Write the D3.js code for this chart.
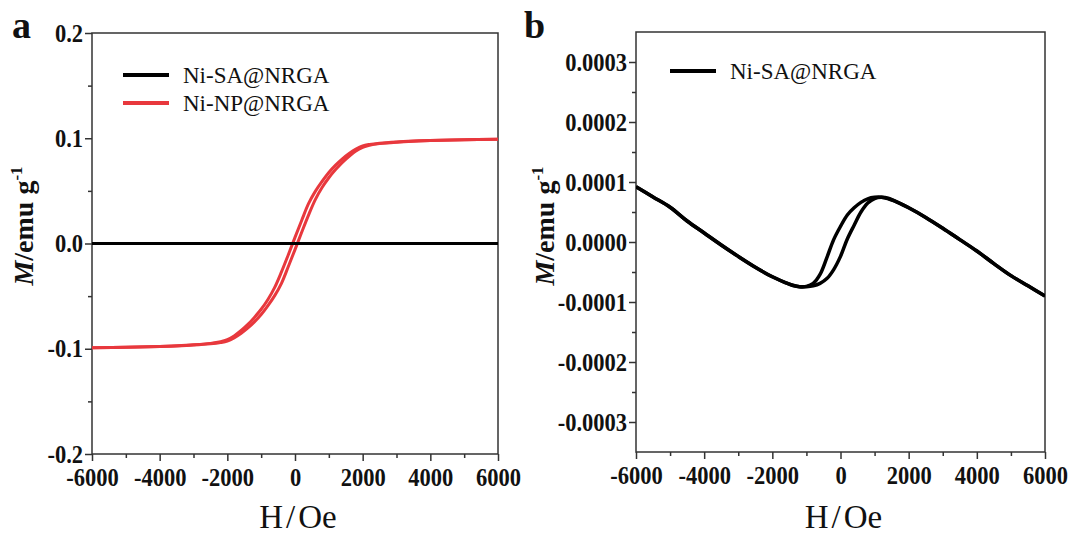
<!DOCTYPE html>
<html><head><meta charset="utf-8">
<script src="https://cdn.jsdelivr.net/npm/d3@7"></script>
<style>
html,body{margin:0;padding:0;background:#fff;}
svg{display:block;}
svg text{font-family:"Liberation Serif","Times New Roman","DejaVu Serif",serif;}
</style></head>
<body>
<svg id="c" width="1072" height="537"></svg>
<script>
// ---------- DATA ----------
const xTicks = [-6000,-4000,-2000,0,2000,4000,6000];
const xMinor = [-5000,-3000,-1000,1000,3000,5000];
const aYTicks = [-0.2,-0.1,0.0,0.1,0.2];
const aYMinor = [-0.15,-0.05,0.05,0.15];
const bYTicks = [-0.0003,-0.0002,-0.0001,0,0.0001,0.0002,0.0003];
const bYMinor = [-0.00025,-0.00015,-0.00005,0.00005,0.00015,0.00025];

// Ni-NP@NRGA loop (panel a)
const npDownH = [6000,5000,4000,3500,3000,2500,2200,2000,1800,1600,1400,1200,1000,800,600,400,200,0,-200,-400,-600,-800,-1000,-1200,-1400,-1600,-1800,-2000,-2200,-2500,-3000,-3500,-4000,-5000,-6000];
const npDownM = [0.0991,0.0986,0.0979,0.0973,0.0965,0.0953,0.0941,0.0927,0.0897,0.0856,0.0805,0.0745,0.0675,0.0590,0.0495,0.0378,0.0221,0.0058,-0.0109,-0.0270,-0.0417,-0.0532,-0.0625,-0.0702,-0.0771,-0.0829,-0.0878,-0.0913,-0.0933,-0.0949,-0.0963,-0.0972,-0.0978,-0.0986,-0.0991];
const npUpH = [-6000,-5000,-4000,-3500,-3000,-2500,-2200,-2000,-1800,-1600,-1400,-1200,-1000,-800,-600,-400,-200,0,200,400,600,800,1000,1200,1400,1600,1800,2000,2200,2500,3000,3500,4000,5000,6000];
const npUpM = [-0.0991,-0.0986,-0.0979,-0.0973,-0.0965,-0.0953,-0.0941,-0.0927,-0.0897,-0.0856,-0.0805,-0.0745,-0.0675,-0.0590,-0.0495,-0.0378,-0.0221,-0.0058,0.0109,0.0270,0.0417,0.0532,0.0625,0.0702,0.0771,0.0829,0.0878,0.0913,0.0933,0.0949,0.0963,0.0972,0.0978,0.0986,0.0991];

// Ni-SA@NRGA loop (panels a and b)
const saDownH = [6000,5500,5000,4500,4000,3500,3000,2500,2000,1600,1200,1000,800,600,400,200,0,-200,-400,-600,-800,-1000,-1200,-1400,-1600,-2000,-2500,-3000,-3500,-4000,-4500,-5000,-5500,-6000];
const saDownM = [-9.0e-5,-7.3e-5,-5.6e-5,-3.6e-5,-1.5e-5,4e-6,2.3e-5,4.1e-5,5.7e-5,6.8e-5,7.45e-5,7.45e-5,7.2e-5,6.6e-5,5.7e-5,4.5e-5,2.6e-5,4e-6,-2.6e-5,-5.4e-5,-6.9e-5,-7.4e-5,-7.45e-5,-7.25e-5,-6.8e-5,-5.8e-5,-4.2e-5,-2.4e-5,-5e-6,1.5e-5,3.5e-5,5.8e-5,7.5e-5,9.2e-5];
const saUpH = [-6000,-5500,-5000,-4500,-4000,-3500,-3000,-2500,-2000,-1600,-1200,-1000,-800,-600,-400,-200,0,200,400,600,800,1000,1200,1400,1600,2000,2500,3000,3500,4000,4500,5000,5500,6000];
const saUpM = [9.2e-5,7.5e-5,5.8e-5,3.5e-5,1.5e-5,-5e-6,-2.4e-5,-4.2e-5,-5.8e-5,-6.8e-5,-7.45e-5,-7.45e-5,-7.3e-5,-6.9e-5,-6.1e-5,-4.6e-5,-2.4e-5,5e-6,2.8e-5,5.0e-5,6.5e-5,7.25e-5,7.45e-5,7.3e-5,6.8e-5,5.7e-5,4.1e-5,2.3e-5,4e-6,-1.5e-5,-3.6e-5,-5.6e-5,-7.3e-5,-9.0e-5];

const seriesNames = ["Ni-SA@NRGA","Ni-NP@NRGA"];
const seriesColors = ["#000000","#e8383d"];

// ---------- DRAW ----------
const svg = d3.select("#c");
const fmt = f => v => f(v).replace("\u2212","-");

function zip(h,m){return h.map((x,i)=>[x,m[i]]);}

function panel(o){
  const x = d3.scaleLinear().domain([-6000,6000]).range([o.x0,o.x1]);
  const y = d3.scaleLinear().domain(o.yDom).range([o.y1,o.y0]);
  const g = svg.append("g");
  g.append("rect").attr("x",o.x0).attr("y",o.y0).attr("width",o.x1-o.x0).attr("height",o.y1-o.y0)
    .attr("fill","none").attr("stroke","#333").attr("stroke-width",1.5);
  g.append("g").attr("transform",`translate(0,${o.y1})`)
    .call(d3.axisBottom(x).tickValues(xTicks).tickSize(7).tickSizeOuter(0).tickPadding(7).tickFormat(fmt(d3.format("d"))));
  g.append("g").attr("transform",`translate(0,${o.y1})`)
    .call(d3.axisBottom(x).tickValues(xMinor).tickSize(4).tickSizeOuter(0).tickFormat(""));
  g.append("g").attr("transform",`translate(${o.x0},0)`)
    .call(d3.axisLeft(y).tickValues(o.yTicks).tickSize(7).tickSizeOuter(0).tickPadding(3).tickFormat(fmt(d3.format(o.yFmt))));
  g.append("g").attr("transform",`translate(${o.x0},0)`)
    .call(d3.axisLeft(y).tickValues(o.yMinor).tickSize(4).tickSizeOuter(0).tickFormat(""));
  g.selectAll(".domain").remove();
  g.selectAll(".tick line").attr("stroke","#333").attr("stroke-width",1.5);
  g.selectAll(".tick text").attr("font-family",null).attr("font-weight","bold").attr("font-size",25)
    .attr("fill","#111").attr("transform","scale(0.9,1)");
  const line = d3.line().x(d=>x(d[0])).y(d=>y(d[1])).curve(d3.curveCatmullRom.alpha(0.5));
  const clip = "clip"+o.id;
  svg.append("clipPath").attr("id",clip).append("rect").attr("x",o.x0).attr("y",o.y0).attr("width",o.x1-o.x0).attr("height",o.y1-o.y0);
  const cg = g.append("g").attr("clip-path",`url(#${clip})`);
  o.curves.forEach(c=>{
    cg.append("path").attr("d",line(c.data)).attr("fill","none").attr("stroke",c.color).attr("stroke-width",c.w).attr("stroke-linejoin","round");
  });
  o.legend.forEach((l,i)=>{
    const ly = o.legY + i*o.legDy;
    g.append("line").attr("x1",o.legX).attr("x2",o.legX+46).attr("y1",ly).attr("y2",ly).attr("stroke",l.color).attr("stroke-width",4);
    g.append("text").attr("x",o.legX+60).attr("y",ly+8).text(l.name).attr("font-size",23).attr("fill","#111");
  });
  const xl = g.append("text").attr("x",(o.x0+o.x1)/2+3).attr("y",528).attr("text-anchor","middle")
    .attr("font-size",33).attr("fill","#111");
  xl.append("tspan").text("H");
  xl.append("tspan").attr("dx",3).text("/");
  xl.append("tspan").attr("dx",3).text("Oe");
  const yl = g.append("text").attr("transform",`translate(${o.ylx},${o.yly}) rotate(-90)`).attr("text-anchor","middle")
    .attr("font-size",28).attr("font-weight","bold").attr("fill","#111");
  yl.append("tspan").attr("font-style","italic").text("M");
  yl.append("tspan").text("/emu g");
  yl.append("tspan").attr("font-size",17).attr("dy",-11).text("-1");
  g.append("text").attr("x",o.lx).attr("y",38).attr("font-weight","bold").attr("font-size",38).attr("fill","#111").text(o.letter);
}

panel({id:"a",x0:92,x1:498,y0:33,y1:454,yDom:[-0.2,0.2],yTicks:aYTicks,yMinor:aYMinor,yFmt:".1f",
  curves:[
    {data:zip(npDownH,npDownM),color:seriesColors[1],w:3},
    {data:zip(npUpH,npUpM),color:seriesColors[1],w:3},
    {data:zip(saDownH,saDownM),color:seriesColors[0],w:3},
    {data:zip(saUpH,saUpM),color:seriesColors[0],w:3}],
  legend:[{name:seriesNames[0],color:seriesColors[0]},{name:seriesNames[1],color:seriesColors[1]}],
  legX:123,legY:75,legDy:28,ylx:33,yly:226,lx:12,letter:"a"});

panel({id:"b",x0:636,x1:1045,y0:32,y1:452,yDom:[-0.00035,0.00035],yTicks:bYTicks,yMinor:bYMinor,yFmt:".4f",
  curves:[
    {data:zip(saDownH,saDownM),color:seriesColors[0],w:3.5},
    {data:zip(saUpH,saUpM),color:seriesColors[0],w:3.5}],
  legend:[{name:seriesNames[0],color:seriesColors[0]}],
  legX:670,legY:71,legDy:28,ylx:554,yly:226,lx:524,letter:"b"});
</script>
</body></html>
